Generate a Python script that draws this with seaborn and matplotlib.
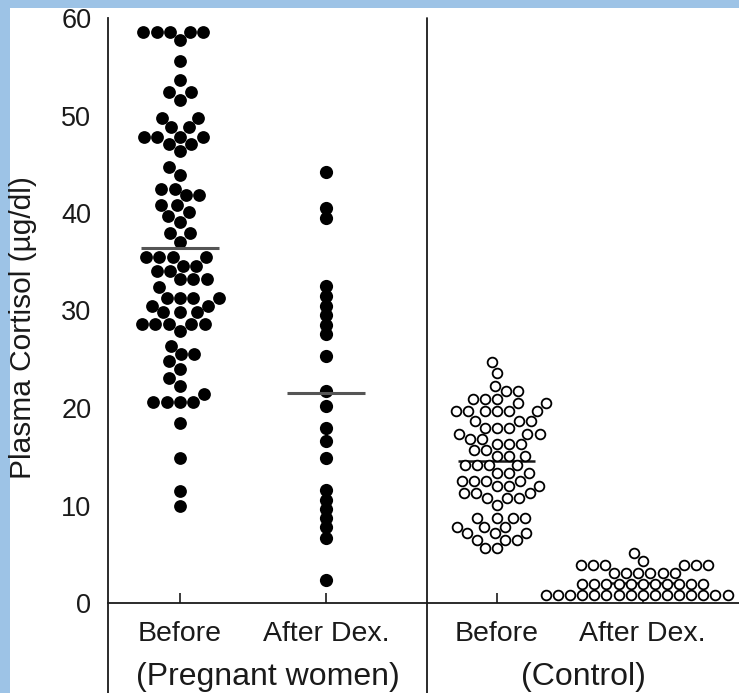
import numpy as np
import pandas as pd
import matplotlib
matplotlib.use("Agg")
import matplotlib.pyplot as plt
from matplotlib.patches import Rectangle
import seaborn as sns


# values (plasma cortisol, ug/dl)
pregnant_before = [
    58.6, 58.6, 58.6, 58.6, 58.6, 57.7, 55.6, 53.6, 52.4, 52.4, 51.6,
    49.7, 49.7, 48.8, 48.8, 47.8, 47.8, 47.8, 47.8, 47.1, 47.1, 46.4,
    44.7, 43.9, 42.5, 42.5, 41.8, 41.8, 40.8, 40.8, 40.1, 39.7, 39.1,
    37.9, 37.9, 37.0, 35.5, 35.5, 35.5, 35.5, 34.6, 34.6, 34.1, 34.1,
    33.2, 33.2, 33.2, 32.4, 31.3, 31.3, 31.3, 31.3, 30.5, 30.5, 29.8,
    29.8, 29.8, 28.6, 28.6, 28.6, 28.6, 28.6, 27.9, 26.4, 25.5, 25.5,
    24.8, 24.0, 23.1, 22.3, 21.4, 20.6, 20.6, 20.6, 20.6, 18.5, 14.9,
    11.5, 9.9,
]
pregnant_after = [
    44.2, 40.5, 39.5, 32.5, 31.5, 30.5, 29.5, 28.5, 27.6, 25.3, 21.7,
    20.2, 18.0, 16.6, 14.9, 11.6, 10.6, 9.6, 8.7, 7.8, 6.7, 2.4,
]
control_before = [
    24.7, 23.6, 22.3, 21.7, 21.7, 20.9, 20.9, 20.9, 20.5, 20.5,
    19.7, 19.7, 19.7, 19.7, 19.7, 19.7, 18.7, 18.7, 18.7, 18.0, 18.0,
    18.0, 17.3, 17.3, 17.3, 16.8, 16.8, 16.3, 16.3, 16.3, 15.7, 15.7,
    15.1, 15.1, 15.1, 14.2, 14.2, 14.2, 14.2, 13.3, 13.3, 13.3, 12.5,
    12.5, 12.5, 12.5, 12.0, 12.0, 12.0, 11.3, 11.3, 11.3, 10.8, 10.8,
    10.8, 10.1, 8.7, 8.7, 8.7, 8.7, 7.8, 7.8, 7.8, 7.2, 7.2, 7.2,
    6.5, 6.5, 6.5, 5.6, 5.6,
]
control_after = [
    0.8, 0.8, 0.8, 0.8, 0.8, 0.8, 0.8, 0.8, 0.8, 0.8, 0.8, 0.8, 0.8,
    0.8, 0.8, 0.8, 2.0, 2.0, 2.0, 2.0, 2.0, 2.0, 2.0, 2.0, 2.0, 2.0,
    2.0, 3.1, 3.1, 3.1, 3.1, 3.1, 3.1, 3.9, 3.9, 3.9, 3.9, 3.9, 3.9,
    4.3, 5.1,
]

# the short horizontal bars (group means) as drawn
group_means = [36.4, 21.5, 14.6, 2.1]

tick_labels = ["Before", "After Dex.", "Before", "After Dex."]
group_labels = ["(Pregnant women)", "(Control)"]
y_ticks = [0, 10, 20, 30, 40, 50, 60]


# layout: the four columns sit on a numeric x axis, with a gap for the divider
X_POS = [0.0, 1.0, 2.17, 3.17]
X_LIM = (-0.493, 3.829)
DIVIDER = 1.692
INK = "#1a1a1a"

sns.set_theme(style="white")
plt.rcParams["font.family"] = ["Liberation Sans", "DejaVu Sans"]

fig = plt.figure(figsize=(7.39, 6.93), dpi=100)
fig.patch.set_facecolor("#9dc3e6")
# white page, light blue strip left and top like the screenshot
fig.add_artist(Rectangle((10 / 739, 0), 1, 685 / 693, transform=fig.transFigure,
                         facecolor="white", edgecolor="none", zorder=-1))
ax = fig.add_axes([108 / 739, 90 / 693, 631 / 739, 585 / 693])

preg_before_df = pd.DataFrame({"pos": X_POS[0], "cortisol": pregnant_before})
preg_after_df = pd.DataFrame({"pos": X_POS[1], "cortisol": pregnant_after})
ctrl_before_df = pd.DataFrame({"pos": X_POS[2], "cortisol": control_before})

# filled dots for the pregnant women
sns.swarmplot(data=preg_before_df, x="pos", y="cortisol", native_scale=True,
              orient="x", color="black", size=9.2, ax=ax, zorder=3)
sns.stripplot(data=preg_after_df, x="pos", y="cortisol", native_scale=True,
              orient="x", jitter=False, color="black", size=9.5, ax=ax, zorder=3)

# open circles for the controls
open_kws = dict(color="white", edgecolor="black", linewidth=1.3, size=7.0)
sns.swarmplot(data=ctrl_before_df, x="pos", y="cortisol", native_scale=True,
              orient="x", ax=ax, zorder=3, **open_kws)

# seaborn's swarm width is fixed at 0.8 data units, too narrow for the
# after-dex pile -- so that one goes on a twin x axis with a stretched unit
STRETCH = 1.65
ax2 = ax.twiny()
ctrl_after_df = pd.DataFrame({"pos": X_POS[3] / STRETCH, "cortisol": control_after})
sns.swarmplot(data=ctrl_after_df, x="pos", y="cortisol", native_scale=True,
              orient="x", ax=ax2, zorder=3, **open_kws)
ax2.set_xlim(X_LIM[0] / STRETCH, X_LIM[1] / STRETCH)
ax2.set_xticks([])
ax2.set_xlabel("")
for s in ax2.spines.values():
    s.set_visible(False)

# mean bars: grey on top for the black dots, behind the open circles
half = 0.265
ax.hlines(group_means[:2], [x - half for x in X_POS[:2]], [x + half for x in X_POS[:2]],
          color="#555555", linewidth=2.2, zorder=4)
ax.hlines(group_means[2:], [x - half for x in X_POS[2:]], [x + half for x in X_POS[2:]],
          color=INK, linewidth=1.8, zorder=1)

ax.set_xlim(*X_LIM)
ax.set_ylim(0, 60)
ax.set_xticks(X_POS, tick_labels)
ax.set_yticks(y_ticks)
ax.set_xlabel("")
ax.set_ylabel("Plasma Cortisol (µg/dl)", fontsize=21.5, color=INK)
ax.yaxis.set_label_coords(-0.113, 0.47)

ax.tick_params(axis="both", direction="in", length=7, width=1.2, colors=INK)
ax.tick_params(axis="x", labelsize=20.5, pad=13)
ax.tick_params(axis="y", labelsize=19.5, pad=12)

sns.despine(ax=ax)
for side in ["left", "bottom"]:
    ax.spines[side].set_color(INK)
    ax.spines[side].set_linewidth(1.3)
# the y axis line runs down past zero to box off the group labels
ax.spines["left"].set_bounds(-9.3, 60)
ax.axvline(DIVIDER, ymin=-0.154, ymax=1, color=INK, linewidth=1.3, clip_on=False)

# group captions centred in their halves
trans = ax.get_xaxis_transform()
ax.text((X_LIM[0] + DIVIDER) / 2, -0.126, group_labels[0], transform=trans,
        ha="center", va="center", fontsize=23, color=INK)
ax.text((DIVIDER + X_LIM[1]) / 2, -0.126, group_labels[1], transform=trans,
        ha="center", va="center", fontsize=23, color=INK)

fig.savefig("out.png", dpi=100)
plt.close(fig)
